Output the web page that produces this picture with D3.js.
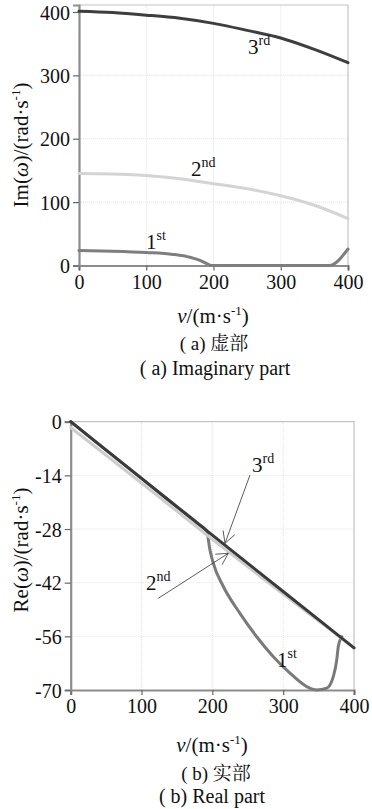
<!DOCTYPE html>
<html>
<head>
<meta charset="utf-8">
<script src="https://cdn.jsdelivr.net/npm/d3@7"></script>
<style>
  body { margin: 0; background: #fff; }
  svg text { font-family: "Liberation Serif", "Noto Serif CJK SC", "DejaVu Serif", serif; fill: #111; }
</style>
</head>
<body>
<svg id="chart" width="372" height="809"></svg>
<script>
// ---------------- DATA ----------------
// (a) imaginary part
const imTicksX = [0, 100, 200, 300, 400];
const imTicksY = [0, 100, 200, 300, 400];
const im1V = [0, 50, 100, 140, 165, 180, 190, 197, 372, 400];
const im1 = [23.5, 22.5, 20.5, 17.5, 13, 8, 3, 0, 0, 26];
const im2V = [0, 50, 100, 150, 200, 250, 300, 350, 400];
const im2 = [145, 144.5, 142, 137, 129, 121, 110, 95, 74];
const im3V = [0, 50, 100, 150, 200, 250, 300, 350, 400];
const im3 = [401, 399, 395, 390, 382, 371, 359, 341, 320];

// (b) real part
const reTicksX = [0, 100, 200, 300, 400];
const reTicksY = [0, -14, -28, -42, -56, -70];
const re1V = [0, 50, 100, 150, 180, 192, 196.7, 201.3, 215.5, 239, 262.6, 286.1, 309.6, 333.2, 347.3, 361.5, 370.8, 375.6, 377.8, 382.6];
const re1 = [0, -7.4, -14.8, -22.2, -26.6, -28.6, -33.5, -36.9, -43, -50, -56.1, -61.3, -65.6, -69.1, -70, -69.5, -66.5, -62.2, -58.7, -56.1];
const re2V = [0, 100, 200, 300, 400];
const re2 = [-1.5, -16, -30.7, -45, -59];
const re3V = [0, 100, 200, 300, 400];
const re3 = [0, -14.8, -29.6, -44.3, -59];

const svg = d3.select("#chart");

function zip(vs, ys) {
  return vs.map((v, i) => [v, ys[i]]);
}

// label with superscript, e.g. 3rd
function modeLabel(g, x, y, num, sup) {
  const t = g.append("text").attr("x", x).attr("y", y).attr("font-size", 21);
  t.append("tspan").text(num);
  t.append("tspan").attr("dy", -9).attr("font-size", 14).text(sup);
}

function axisTitle(g, x, y, rotate, parts) {
  const t = g.append("text")
    .attr("text-anchor", "middle")
    .attr("font-size", 21)
    .attr("transform", `translate(${x},${y}) rotate(${rotate})`);
  parts.forEach(p => {
    const s = t.append("tspan").text(p.t);
    if (p.italic) s.attr("font-style", "italic");
    if (p.sup) s.attr("dy", -8).attr("font-size", 13);
    if (p.down) s.attr("dy", 8);
  });
}

function drawPanel(opt) {
  const g = svg.append("g");
  const x = d3.scaleLinear().domain([0, 400]).range(opt.xRange);
  const y = d3.scaleLinear().domain(opt.yDomain).range(opt.yRange);

  // grid
  g.selectAll(".gx").data(opt.ticksX.slice(1, -1)).join("line")
    .attr("x1", d => x(d)).attr("x2", d => x(d))
    .attr("y1", opt.yRange[0]).attr("y2", opt.yRange[1])
    .attr("stroke", "#e2e2e2").attr("stroke-dasharray", "1,1");
  g.selectAll(".gy").data(opt.gridY).join("line")
    .attr("x1", opt.xRange[0]).attr("x2", opt.xRange[1])
    .attr("y1", d => y(d)).attr("y2", d => y(d))
    .attr("stroke", "#e2e2e2").attr("stroke-dasharray", "1,1");

  // frame top / right
  g.append("path")
    .attr("d", `M${opt.xRange[0]},${opt.yRange[1]}H${opt.xRange[1]}V${opt.yRange[0]}`)
    .attr("fill", "none").attr("stroke", "#c4c4c4").attr("stroke-width", 1.2);

  // axes (plain hyphen for negatives, like the reference)
  const fmt = d => String(d);
  const ax = g.append("g").attr("transform", `translate(0,${opt.yRange[0]})`)
    .call(d3.axisBottom(x).tickValues(opt.ticksX).tickFormat(fmt).tickSize(5).tickPadding(4));
  const ay = g.append("g").attr("transform", `translate(${opt.xRange[0]},0)`)
    .call(d3.axisLeft(y).tickValues(opt.ticksY).tickFormat(fmt).tickSize(6).tickPadding(3));
  [ax, ay].forEach(a => {
    a.attr("font-family", null);
    a.select(".domain").attr("stroke", "#8c8c8c").attr("stroke-width", 2.2);
    a.selectAll(".tick line").attr("stroke", "#666").attr("stroke-width", 1.2);
    a.selectAll(".tick text").attr("font-size", 20).attr("fill", "#111");
  });
  ay.selectAll(".tick text").attr("dy", "0.36em");
  ax.selectAll(".tick text").attr("dy", "0.72em");

  // curves
  const line = d3.line().x(d => x(d[0])).y(d => y(d[1])).curve(d3.curveMonotoneX);
  opt.series.forEach(s => {
    g.append("path").datum(s.data)
      .attr("d", line)
      .attr("fill", "none")
      .attr("stroke", s.color)
      .attr("stroke-width", 3)
      .attr("stroke-linecap", "round")
      .attr("stroke-linejoin", "round");
  });
  return { g, x, y };
}

// ---------------- (a) IMAGINARY PART ----------------
const a = drawPanel({
  xRange: [79, 348],
  yDomain: [0, 411],
  yRange: [265.5, 5],
  ticksX: imTicksX,
  ticksY: imTicksY,
  gridY: [100, 200, 300],
  series: [
    { data: zip(im1V, im1), color: "#7e7e7e" },
    { data: zip(im2V, im2), color: "#d4d4d4" },
    { data: zip(im3V, im3), color: "#3e3e3e" }
  ]
});
modeLabel(a.g, 248, 54, "3", "rd");
modeLabel(a.g, 191, 176, "2", "nd");
modeLabel(a.g, 146, 249, "1", "st");

axisTitle(a.g, 28, 145, -90, [
  { t: "Im(" }, { t: "ω", italic: true }, { t: ")/(rad·s" }, { t: "-1", sup: true }, { t: ")", down: true }
]);
axisTitle(a.g, 213, 323, 0, [
  { t: "v", italic: true }, { t: "/(m·s" }, { t: "-1", sup: true }, { t: ")", down: true }
]);

svg.append("text").attr("x", 214).attr("y", 350).attr("text-anchor", "middle")
  .attr("font-size", 19).text("( a) 虚部");
svg.append("text").attr("x", 215).attr("y", 375).attr("text-anchor", "middle")
  .attr("font-size", 20).text("( a) Imaginary part");

// ---------------- (b) REAL PART ----------------
const b = drawPanel({
  xRange: [70.7, 354],
  yDomain: [-70, 0],
  yRange: [690, 421.7],
  ticksX: reTicksX,
  ticksY: reTicksY,
  gridY: [-14, -28, -42, -56],
  series: [
    { data: zip(re1V, re1), color: "#7a7a7a" },
    { data: zip(re2V, re2), color: "#cdcdcd" },
    { data: zip(re3V, re3), color: "#3a3a3a" }
  ]
});

// arrows pointing at the 3rd and 2nd lines
const arrowData = [
  { from: [250, 475], to: [225, 543.3] },
  { from: [158.3, 598.3], to: [228.3, 553.3] }
];
arrowData.forEach(d => {
  const ang = Math.atan2(d.to[1] - d.from[1], d.to[0] - d.from[0]);
  b.g.append("line")
    .attr("x1", d.from[0]).attr("y1", d.from[1])
    .attr("x2", d.to[0]).attr("y2", d.to[1])
    .attr("stroke", "#333").attr("stroke-width", 0.8);
  [0.5, -0.5].forEach(off => {
    b.g.append("line")
      .attr("x1", d.to[0]).attr("y1", d.to[1])
      .attr("x2", d.to[0] - 13 * Math.cos(ang + off))
      .attr("y2", d.to[1] - 13 * Math.sin(ang + off))
      .attr("stroke", "#333").attr("stroke-width", 0.8);
  });
});

modeLabel(b.g, 252, 472, "3", "rd");
modeLabel(b.g, 146, 590, "2", "nd");
modeLabel(b.g, 277, 667, "1", "st");

axisTitle(b.g, 28, 550, -90, [
  { t: "Re(" }, { t: "ω", italic: true }, { t: ")/(rad·s" }, { t: "-1", sup: true }, { t: ")", down: true }
]);
axisTitle(b.g, 212, 752, 0, [
  { t: "v", italic: true }, { t: "/(m·s" }, { t: "-1", sup: true }, { t: ")", down: true }
]);

svg.append("text").attr("x", 216).attr("y", 780).attr("text-anchor", "middle")
  .attr("font-size", 19).text("( b)  实部");
svg.append("text").attr("x", 212).attr("y", 803).attr("text-anchor", "middle")
  .attr("font-size", 20).text("( b) Real part");
</script>
</body>
</html>
